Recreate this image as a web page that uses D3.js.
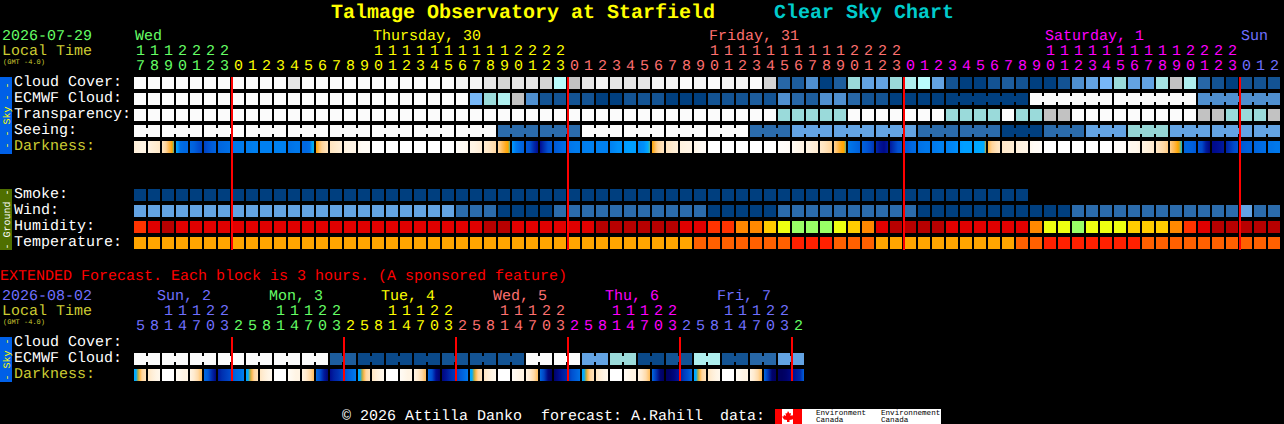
<!DOCTYPE html>
<html>
<head>
<meta charset="utf-8">
<title>Talmage Observatory at Starfield Clear Sky Chart</title>
<script src="https://cdn.jsdelivr.net/npm/d3@7/dist/d3.min.js"></script>
<style>
  html, body { margin: 0; padding: 0; background: #000; overflow: hidden; }
  svg { display: block; }
  text { font-family: "Liberation Mono", monospace; font-size: 15px; text-rendering: geometricPrecision; }
  rect { shape-rendering: crispEdges; }
</style>
</head>
<body>
<div id="chart"></div>
<script>
// hour labels for the 82 one-hour blocks
const hours = [17,18,19,20,21,22,23,
  0,1,2,3,4,5,6,7,8,9,10,11,12,13,14,15,16,17,18,19,20,21,22,23,
  0,1,2,3,4,5,6,7,8,9,10,11,12,13,14,15,16,17,18,19,20,21,22,23,
  0,1,2,3,4,5,6,7,8,9,10,11,12,13,14,15,16,17,18,19,20,21,22,23,
  0,1,2];
// hour labels for the 48 three-hour blocks
const extHours = [5,8,11,14,17,20,23,
  2,5,8,11,14,17,20,23, 2,5,8,11,14,17,20,23, 2,5,8,11,14,17,20,23,
  2,5,8,11,14,17,20,23, 2,5,8,11,14,17,20,23, 2];

const dayNames = ["Wed", "Thursday, 30", "Friday, 31", "Saturday, 1", "Sun"];
const dayLabelAt = [0, 17, 41, 65, 79];
const dayStart = [0, 7, 31, 55, 79];
const extDayNames = ["Sun, 2", "Mon, 3", "Tue, 4", "Wed, 5", "Thu, 6", "Fri, 7"];
const extDayLabelAt = [2, 10, 18, 26, 34, 42];
const extDayStart = [0, 7, 15, 23, 31, 39, 47];
const midnights = [7, 31, 55, 79];
const extMidnights = [7, 15, 23, 31, 39, 47];

// cloud percent
const cloudCover = [
  100,100,100,100,100,100,100,100,100,100,
  100,90,100,100,100,100,100,100,100,100,
  100,100,100,95,95,90,85,90,90,85,
  75,80,90,95,90,90,90,95,95,100,
  95,100,95,95,100,85,20,15,30,0,
  15,60,40,40,60,70,75,40,10,0,
  0,10,15,10,0,0,10,30,40,50,
  60,40,40,65,80,70,20,10,0,10,
  10,10];
const ecmwfCloud = [
  100,100,100,100,100,100,100,100,100,100,
  100,100,100,100,100,100,100,100,100,100,
  100,100,100,100,50,60,70,80,30,10,
  10,10,10,0,0,10,10,10,0,0,
  0,10,10,10,15,10,30,20,15,30,
  30,20,10,10,0,0,0,0,0,0,
  0,0,0,0,100,100,100,100,100,100,
  100,100,100,100,100,100,30,30,30,30,
  30,30];
const ecmwfGroups = [1,1,1,1,1,1,1,1,1,1, 1,1,1,1,1,1,1,1,1,1,
  1,1,1,1,1,1,1,1,1,1, 1,1,1,1,1,1,1,1,1,1,
  1,1,1,1,1,1,1,1,1,1, 1,1,1,1,1,1,1,1, 6,6,6,6];
// 0 too cloudy, 1 poor, 2 below average
const transparency = [
  0,0,0,0,0,0,0,0,0,0, 0,0,0,0,0,0,0,0,0,0,
  0,0,0,0,0,0,0,0,0,0, 0,0,0,0,0,0,0,0,0,0,
  0,0,0,0,0,0,2,2,2,2,
  2,0,0,0,0,0,0,0,2,2,
  2,2,0,2,2,1,1,0,0,0,
  0,0,0,0,0,0,1,1,2,2,
  2,1];
// 0 too cloudy, then 1 bad up to 4 good
const seeing = [
  0,0,0,0,0,0,0,0,0,0, 0,0,0,0,0,0,0,0,0,0,
  0,0,0,0,0,0,3,3,3,3,
  3,3,0,0,0,0,0,0,0,0,
  0,0,0,0,3,3,3,2,2,2,
  2,2,2,2,2,2,3,3,3,3,
  3,3,4,4,4,3,3,3,2,2,
  2,1,1,1,2,2,2,2,2,2,
  2,2];
const seeingGroups = [2,3,3,3,3,3,3,3,3,3,3,3,3,3,3,3,3,3,3,3,3,3,3,3,3,3,3,2];
// limiting magnitude, samples spread evenly across each block
const darkness = [
  [-0.6,-0.8,-1,-1],[-1,-0.6,-0.3,0],[0.1,0.5,1,1.4,1.7,2,2.2],[2.6,3.4,4.2,4.3,4.4,4.4,4.4],[4.4,4.6,5,5.2],
  [5.2,5,4.7,4.5],[4.5,4.4,4.3,4.2],[4.1,4,4,3.9],[3.9,3.9,3.8,3.8],[3.8,3.8,3.8,3.8],
  [3.8,3.8,3.8,3.8],[4.2,4.1,4,4],[4.4,4.4,4.4,4.3,4.2,3,2.4],[2,1.7,1.3,1,0.7,0.4,0.2],[0.2,0,-0.3,-0.6],
  [-0.8,-1,-1,-1.2],[-1.5,-2,-2,-2],[-4,-4,-4,-4],[-4,-4,-4,-4],[-4,-4,-4,-4],
  [-4,-4,-4,-4],[-4,-4,-4,-4],[-4,-4,-4,-4],[-3,-2,-2,-1.5],[-1.2,-1,-0.7,-0.4],
  [-0.3,0,0.4,0.8],[0.9,1.2,1.5,1.7,1.9,2,2.2],[3.2,4,4.4,4.6],[4.8,5,5.6,6],[6,5.5,5,4.8],
  [4.8,4.6,4.4,4.2],[4.1,4,3.9,3.9],[3.9,3.8,3.8,3.8],[3.8,3.8,3.8,3.8],[3.8,3.6,3.4,3.4],
  [3.2,3,3,3],[3.6,3.6,3.5,3.4,3,2.6,2.2],[2,1.7,1.3,1,0.7,0.4,0.2],[0.2,0,-0.4,-0.6],[-0.8,-0.9,-1,-1],
  [-1.2,-1.5,-2,-2],[-4,-4,-4,-4],[-4,-4,-4,-4],[-4,-4,-4,-4],[-4,-4,-4,-4],
  [-4,-4,-4,-4],[-3,-3,-2.5,-2],[-2,-1.5,-1.2,-1],[-1,-0.8,-0.5,-0.3],[-0.1,0.2,0.6,1],
  [1.1,1.3,1.6,1.8,1.95,2,2.2],[4,4.2,4.4,4.6],[4.6,4.8,5.1,5.4],[5.6,5.9,6.1,5.8],[5.8,5.4,5,4.9],
  [4.8,4.7,4.4,4.3],[4.2,4.1,4,4],[4,3.9,3.8,3.8],[3.8,3.7,3.6,3.4],[3.2,3,3,3],
  [2.8,2.7,2.7,2.6,2.6,2.6,2.05],[1.7,1.3,1,0.7,0.4,0.2,0],[0,-0.2,-0.3,-0.5],[-0.7,-0.9,-1,-1.2],[-1.5,-2,-2,-3],
  [-4,-4,-4,-4],[-4,-4,-4,-4],[-4,-4,-4,-4],[-4,-4,-4,-4],[-4,-4,-4,-4],
  [-3,-3,-3,-2.5],[-2,-1.5,-1.5,-1],[-1,-0.8,-0.5,-0.2],[0,0.4,0.8,1.2],[1.1,1.4,1.6,1.8,2,2.1,2.4],
  [4.5,4.5,4.6,4.8],[4.9,5.1,5.8,6.2],[6.1,6,5.9,5.8],[5.7,5.4,5.1,4.9],[4.9,4.7,4.6,4.6],
  [4.5,4.4,4.3,4.2],[4.1,4.1,4,4]];

const smoke = [
  0,0,0,0,0,0,0,0,0,0, 0,0,0,0,0,0,0,0,0,0,
  0,0,0,0,0,0,0,0,0,0, 0,0,0,0,0,0,0,0,0,0,
  0,0,0,0,0,0,0,0,0,0, 0,0,0,0,0,0,0,0,0,0,
  0,0,0,0];
// km/h
const wind = [
  14,14,14,14,14,14,14,14,14,14, 14,14,14,14,14,14,14,14,14,14,
  14,14,14,9,9,9,3,3,3,3,
  9,9,9,9,9,9,9,9,9,9,
  9,3,3,3,3,3,9,9,9,9,
  9,9,9,9,9,9,3,3,3,3,
  3,3,3,3,3,3,3,9,9,9,
  9,9,9,9,9,9,9,9,9,14,
  9,9];
// percent
const humidity = [
  85,90,95,90,90,90,90,90,90,90,
  90,90,90,90,90,90,90,90,90,90,
  90,90,90,90,90,95,95,90,90,90,
  90,90,90,95,95,95,95,95,95,90,
  90,85,85,80,80,75,70,65,65,65,
  70,75,80,90,95,95,95,95,90,90,
  90,90,90,90,80,70,70,65,70,70,
  70,75,75,75,80,85,90,95,95,95,
  95,95];
// degrees C
const temperature = [
  22,22,22,22,22,22,22,22,22,22, 22,22,22,22,22,22,22,22,22,22,
  22,22,22,22,22,22,22,22,22,22, 22,22,22,22,22,22,22,22,22,22,
  27,27,27,27,27,27,27,32,32,32,
  27,27,27,22,22,22,22,22,22,22,
  22,22,22,27,27,32,32,32,32,32,
  32,32,27,27,27,27,27,27,27,27,
  27,27];

const extEcmwf = [
  100,100,100,100,100,100,100,100,100,100,100,100,100,100,
  15,15,5,5,5,5,5,5,10,10,10,10,10,10,100,100,100,100,
  40,40,60,60,5,5,10,10,70,70,10,10,20,20,40,40];
const extEcmwfGroups = [2,2,2,2,2,2,2,2,2,2,2,2,2,2,2,2,2,2,2,2,2,2,2,2];
const extDarkness = [
  [2.6,2.6,2.1,1.6,1,0.6,0.3],[0.1,-0.5,-1,-1.5],[-4,-4,-4,-4],[-2,-1.5,-1,-1],[-1,-0.2,0.7,1.5],[4.4,4.8,5.6,6.2],[5.8,5.5,5.3,5.1],[4.8,4.4,4.2,3.8],
  [2.6,2.6,2.1,1.6,1,0.6,0.3],[0.1,-0.5,-1,-1.5],[-4,-4,-4,-4],[-2,-1.5,-1,-1],[-1,-0.2,0.7,1.5],[4.4,5,5.8,6.3],[6,5.7,5.5,5.2],[5,4.6,4.3,3.9],
  [2.6,2.6,2.1,1.6,1,0.6,0.3],[0.1,-0.5,-1,-1.5],[-4,-4,-4,-4],[-2,-1.5,-1,-1],[-1,-0.2,0.7,1.5],[4.4,5,6,6.4],[6.2,5.9,5.6,5.4],[5.2,4.8,4.4,4],
  [2.6,2.6,2.1,1.6,1,0.6,0.3],[0.1,-0.5,-1,-1.5],[-4,-4,-4,-4],[-2,-1.5,-1,-1],[-1,-0.2,0.7,1.5],[4.4,5.2,6.2,6.5],[6.4,6.1,5.8,5.6],[5.4,5,4.6,4.2],
  [2.6,2.6,2.1,1.6,1,0.6,0.3],[0.1,-0.5,-1,-1.5],[-4,-4,-4,-4],[-2,-1.5,-1,-1],[-1,-0.2,0.7,1.5],[4.4,5.4,6.3,6.5],[6.5,6.4,6.2,5.9],[5.7,5.3,5,4.3],
  [2.6,2.6,2.1,1.6,1,0.6,0.3],[0.1,-0.5,-1,-1.5],[-4,-4,-4,-4],[-2,-1.5,-1,-1],[-1,-0.2,0.7,1.5],[4.4,5.4,6.4,6.5],[6.5,6.5,6.4,6.2],[6,5.8,5.6,4.6]];
const extDarkGroups = [1,1,1,1,1,1,2, 1,1,1,1,1,1,2, 1,1,1,1,1,1,2, 1,1,1,1,1,1,2, 1,1,1,1,1,1,2, 1,1,1,1,1,1,2];

const skyRows = ["Cloud Cover:", "ECMWF Cloud:", "Transparency:", "Seeing:", "Darkness:"];
const groundRows = ["Smoke:", "Wind:", "Humidity:", "Temperature:"];
const extRows = ["Cloud Cover:", "ECMWF Cloud:", "Darkness:"];

const WIDTH = 1284, HEIGHT = 424;
const STEP = 14, CELL = 12;
const LEFT = 134;
const WHITE = "#fff", DATE_YELLOW = "#cccc33";
const dayColors = ["#66ff66", "#ffff00", "#ff7070", "#ff00ff", "#7070ff"];
const extDayColors = ["#7070ff", "#66ff66", "#ffff00", "#ff7070", "#ff00ff", "#7070ff", "#66ff66"];

const x = d3.scaleLinear().domain([0, hours.length]).range([LEFT, LEFT + hours.length * STEP]);
const xCenter = i => x(i) + CELL / 2;
const ySky = d3.scaleBand().domain(skyRows).range([77, 157]);
const yGround = d3.scaleBand().domain(groundRows).range([189, 253]);
const yExt = d3.scaleBand().domain(extRows).range([337, 385]);

const cloudColor = d3.scaleLinear()
  .domain([0, 10, 20, 30, 40, 50, 60, 70, 75, 80, 90, 95, 100])
  .range(["#003f7f", "#135393", "#2767a7", "#4f8fcf", "#63a3e3", "#77b7f7", "#9adada", "#aeeeee", "#b9fcfc", "#c2c2c2", "#e6e6e6", "#f4f4f4", "#fbfbfb"]);
const transparencyColor = d3.scaleOrdinal([0, 1, 2], ["#fbfbfb", "#c2c2c2", "#9adada"]);
const seeingColor = d3.scaleOrdinal([0, 1, 2, 3, 4], ["#fbfbfb", "#95d5d5", "#63a3e3", "#2b6bab", "#003f7f"]);
const windColor = d3.scaleOrdinal([3, 9, 14], ["#003f7f", "#2b6bab", "#63a3e3"]);
const humidityColor = d3.scaleOrdinal([65, 70, 75, 80, 85, 90, 95],
  ["#99ff66", "#eeff11", "#ffcc00", "#ff8800", "#ff3300", "#e00000", "#b80000"]);
const temperatureColor = d3.scaleOrdinal([22, 27, 32], ["#ffa500", "#ff6000", "#ff2000"]);
const darkColor = d3.scaleLinear()
  .domain([-4, -2, -1, 0, 1, 1.6, 2, 2.15, 2.3, 2.6, 3.2, 3.8, 4.4, 5, 5.5, 6, 6.5])
  .range(["#ffffff", "#fffbf5", "#fff4e4", "#ffe8c8", "#ffd49a", "#ffb850", "#ffa500", "#80b070", "#00c0d0",
    "#00aaff", "#0099ff", "#0080f0", "#0068e0", "#0050d0", "#0030b0", "#000c90", "#000060"]);

const svg = d3.select("#chart").append("svg")
  .attr("width", WIDTH)
  .attr("height", HEIGHT)
  .style("background", "#000");
const defs = svg.append("defs");

function label(txt, px, py, color, size) {
  return svg.append("text")
    .attr("x", px).attr("y", py)
    .attr("fill", color)
    .style("font-size", (size || 15) + "px")
    .text(txt);
}

// blocks of one row, plus the small bridges that tie blocks of a group together
function drawRow(values, top, colorOf, groups, bridge) {
  const g = svg.append("g");
  g.selectAll("rect.cell").data(values).join("rect")
    .attr("class", "cell")
    .attr("x", (d, i) => x(i))
    .attr("y", top)
    .attr("width", CELL)
    .attr("height", CELL)
    .attr("fill", (d, i) => colorOf(d, i));

  if (!groups) return;
  const links = [];
  let at = 0;
  groups.forEach(len => {
    for (let k = 0; k < len - 1; k++) links.push(at + k);
    at += len;
  });
  const b = bridge || {inset: 3};
  g.selectAll("rect.link").data(links).join("rect")
    .attr("class", "link")
    .attr("x", i => x(i) + CELL)
    .attr("y", top + b.inset)
    .attr("width", STEP - CELL)
    .attr("height", CELL - 2 * b.inset)
    .attr("fill", i => b.color ? b.color(values[i]) : colorOf(values[i], i));
}

function darkFill(prefix) {
  return (d, i) => {
    const id = prefix + i;
    const grad = defs.append("linearGradient").attr("id", id);
    d.forEach((v, k) => {
      grad.append("stop")
        .attr("offset", k / (d.length - 1))
        .attr("stop-color", darkColor(v));
    });
    return `url(#${id})`;
  };
}

// hour digits come from axes so that they sit on the same x scale as the blocks
function hourAxis(labels, starts, colors, tensY, onesY) {
  const colorAt = i => colors[d3.bisectRight(starts, i) - 1];
  const style = sel => {
    sel.select(".domain").remove();
    sel.selectAll(".tick text")
      .attr("y", 0).attr("dy", 0)
      .attr("fill", colorAt)
      .style("font-size", "15px")
      .style("font-family", '"Liberation Mono", monospace');
  };
  const axis = d3.axisBottom(d3.scaleLinear().domain([0, 1]).range([xCenter(0), xCenter(1)]))
    .tickSize(0);
  svg.append("g")
    .attr("transform", `translate(0,${tensY})`)
    .call(axis.tickValues(d3.range(labels.length).filter(i => labels[i] >= 10))
      .tickFormat(i => Math.floor(labels[i] / 10)))
    .call(style);
  svg.append("g")
    .attr("transform", `translate(0,${onesY})`)
    .call(axis.tickValues(d3.range(labels.length)).tickFormat(i => labels[i] % 10))
    .call(style);
}

function sideBar(top, bottom, fill, txt, color) {
  svg.append("rect")
    .attr("x", 0).attr("y", top)
    .attr("width", 12).attr("height", bottom - top)
    .attr("fill", fill);
  svg.append("text")
    .attr("transform", `translate(10,${(top + bottom) / 2}) rotate(-90)`)
    .attr("text-anchor", "middle")
    .attr("fill", color)
    .style("font-size", "10px")
    .style("white-space", "pre")
    .text(txt);
}

// title
label("Talmage Observatory at Starfield", 331, 18, "#ffff00", 20).style("font-weight", "bold");
label("Clear Sky Chart", 774, 18, "#00cccc", 20).style("font-weight", "bold");

// main chart header
label("2026-07-29", 2, 40, dayColors[0]);
label("Local Time", 2, 55, DATE_YELLOW);
label("(GMT -4.0)", 3, 64, DATE_YELLOW, 7);
dayNames.forEach((d, i) => label(d, x(dayLabelAt[i]) + 1, 40, dayColors[i]));
hourAxis(hours, dayStart, dayColors, 55, 70);

// main chart rows
sideBar(77, 154, "#0060e8", "- - Sky - -", "#ffff00");
sideBar(189, 250, "#4f6f00", "- Ground -", WHITE);
skyRows.forEach(r => label(r, 14, ySky(r) + 9, r === "Darkness:" ? DATE_YELLOW : WHITE));
groundRows.forEach(r => label(r, 14, yGround(r) + 9, WHITE));

drawRow(cloudCover, ySky("Cloud Cover:"), cloudColor);
drawRow(ecmwfCloud, ySky("ECMWF Cloud:"), cloudColor, ecmwfGroups);
drawRow(transparency, ySky("Transparency:"), transparencyColor);
drawRow(seeing, ySky("Seeing:"), seeingColor, seeingGroups);
drawRow(darkness, ySky("Darkness:"), darkFill("dark"));
drawRow(smoke, yGround("Smoke:"), cloudColor);
drawRow(wind, yGround("Wind:"), windColor);
drawRow(humidity, yGround("Humidity:"), humidityColor);
drawRow(temperature, yGround("Temperature:"), temperatureColor);

svg.append("g").selectAll("rect").data(midnights).join("rect")
  .attr("x", i => x(i) - 1).attr("y", 77)
  .attr("width", 2).attr("height", 173)
  .attr("fill", "#ff0000");

// extended forecast
label("EXTENDED Forecast. Each block is 3 hours. (A sponsored feature)", 0, 280, "#ff0000");
label("2026-08-02", 2, 300, extDayColors[0]);
label("Local Time", 2, 315, DATE_YELLOW);
label("(GMT -4.0)", 3, 324, DATE_YELLOW, 7);
extDayNames.forEach((d, i) => label(d, x(extDayLabelAt[i]) - 5, 300, extDayColors[i]));
hourAxis(extHours, extDayStart, extDayColors, 315, 330);

sideBar(337, 382, "#0060e8", "- Sky -", "#ffff00");
extRows.forEach(r => label(r, 14, yExt(r) + 9, r === "Darkness:" ? DATE_YELLOW : WHITE));
drawRow(extEcmwf, yExt("ECMWF Cloud:"), cloudColor, extEcmwfGroups);
drawRow(extDarkness, yExt("Darkness:"), darkFill("ext"), extDarkGroups, {
  inset: 0,
  color: d => darkColor(d[d.length - 1])
});

svg.append("g").selectAll("rect").data(extMidnights).join("rect")
  .attr("x", i => x(i) - 1).attr("y", 337)
  .attr("width", 2).attr("height", 44)
  .attr("fill", "#ff0000");

// footer and data source logo
label("\u00a9 2026 Attilla Danko", 342, 420, WHITE);
label("forecast: A.Rahill", 541, 420, WHITE);
label("data:", 720, 420, WHITE);

svg.append("rect").attr("x", 775).attr("y", 409).attr("width", 166).attr("height", 15).attr("fill", "#fff");
svg.append("rect").attr("x", 775).attr("y", 409).attr("width", 7).attr("height", 15).attr("fill", "#ff0000");
svg.append("rect").attr("x", 793).attr("y", 409).attr("width", 9).attr("height", 15).attr("fill", "#ff0000");
svg.append("path")
  .attr("d", "M788 411 l1.5 2.5 1.5 -0.5 -0.5 3 2 -1 0.5 1.5 1.5 0 -2 3 -3 0.5 0 2 -2.5 0 0 -2 -3 -0.5 -2 -3 1.5 0 0.5 -1.5 2 1 -0.5 -3 1.5 0.5z")
  .attr("fill", "#ff0000");
[["Environment", 816, 415], ["Canada", 816, 422], ["Environnement", 881, 415], ["Canada", 881, 422]]
  .forEach(t => label(t[0], t[1], t[2], "#000", 7.6));
</script>
</body>
</html>
